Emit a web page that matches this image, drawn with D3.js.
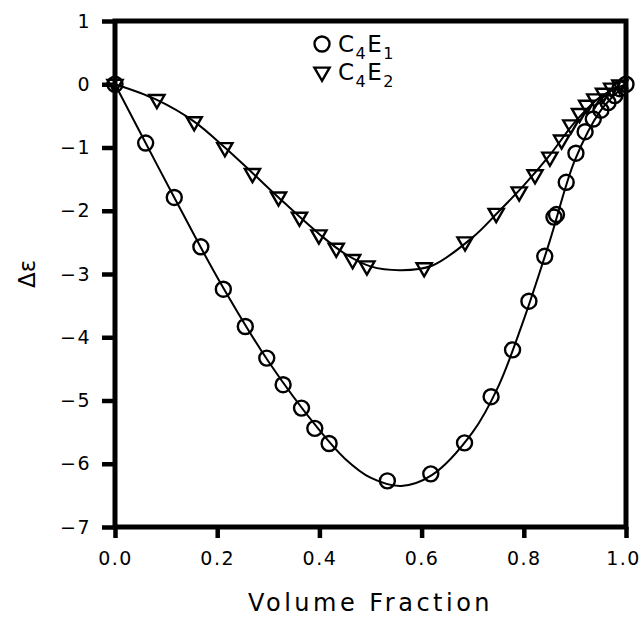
<!DOCTYPE html>
<html>
<head>
<meta charset="utf-8">
<script src="https://cdn.jsdelivr.net/npm/d3@7"></script>
<style>
  body { margin: 0; background: #fff; }
  text { font-family: "DejaVu Sans", sans-serif; fill: #000; }
</style>
</head>
<body>
<div id="chart"></div>
<script>
// C4E1 (circles) measured points
const e1X = [0, 0.060, 0.116, 0.168, 0.212, 0.255, 0.297, 0.329, 0.365, 0.391, 0.419,
  0.533, 0.618, 0.684, 0.736, 0.778, 0.810, 0.841, 0.859, 0.864, 0.883, 0.902, 0.920,
  0.936, 0.951, 0.965, 0.978, 0.988, 1.0];
const e1Y = [0, -0.93, -1.79, -2.57, -3.24, -3.83, -4.33, -4.75, -5.12, -5.44, -5.68,
  -6.27, -6.16, -5.67, -4.94, -4.20, -3.43, -2.72, -2.10, -2.06, -1.55, -1.09, -0.75,
  -0.55, -0.41, -0.29, -0.18, -0.07, 0];
// C4E2 (triangles) measured points
const e2X = [0, 0.082, 0.155, 0.215, 0.269, 0.320, 0.361, 0.399, 0.433, 0.465, 0.493,
  0.605, 0.685, 0.746, 0.791, 0.822, 0.851, 0.874, 0.892, 0.909, 0.923, 0.939, 0.956,
  0.972, 0.988];
const e2Y = [0, -0.24, -0.59, -1.00, -1.41, -1.78, -2.10, -2.38, -2.59, -2.77, -2.87,
  -2.90, -2.49, -2.04, -1.70, -1.43, -1.15, -0.88, -0.64, -0.46, -0.33, -0.23, -0.14,
  -0.06, -0.01];
// fitted curves
const fit1X = [0, 0.06, 0.116, 0.2, 0.3, 0.4, 0.45, 0.5, 0.56, 0.62, 0.7, 0.75, 0.8, 0.85, 0.9, 0.95, 1.0];
const fit1Y = [0, -0.93, -1.79, -3.05, -4.38, -5.47, -5.92, -6.22, -6.35, -6.18, -5.5, -4.78, -3.72, -2.5, -1.2, -0.42, 0];
const fit2X = [0, 0.08, 0.155, 0.215, 0.27, 0.32, 0.4, 0.45, 0.5, 0.56, 0.62, 0.7, 0.75, 0.8, 0.85, 0.9, 0.95, 1.0];
const fit2Y = [0, -0.24, -0.59, -1.0, -1.41, -1.79, -2.37, -2.68, -2.88, -2.94, -2.87, -2.42, -2.02, -1.6, -1.13, -0.6, -0.2, 0];

const xTicks = [0, 0.2, 0.4, 0.6, 0.8, 1.0];
const yTicks = [1, 0, -1, -2, -3, -4, -5, -6, -7];

const width = 643, height = 619;
const margin = { top: 21, right: 17, bottom: 92, left: 115 };

const svg = d3.select('#chart').append('svg')
  .attr('width', width)
  .attr('height', height);

const x = d3.scaleLinear().domain([0, 1]).range([margin.left, width - margin.right]);
const y = d3.scaleLinear().domain([1, -7]).range([margin.top, height - margin.bottom]);

// axes
const yAxis = svg.append('g')
  .attr('transform', `translate(${x(0)},0)`)
  .call(d3.axisLeft(y).tickValues(yTicks).tickSize(13).tickPadding(11)
    .tickFormat(d => d3.format('d')(d).replace('-', '\u2212')));
const xAxis = svg.append('g')
  .attr('transform', `translate(0,${y(-7)})`)
  .call(d3.axisBottom(x).tickValues(xTicks).tickSize(11).tickPadding(14)
    .tickFormat(d3.format('.1f')));

[xAxis, yAxis].forEach(a => {
  a.select('.domain').remove();
  a.selectAll('.tick line').attr('stroke', '#000').attr('stroke-width', 4.5);
  a.selectAll('.tick text')
    .style('font-size', '19px')
    .style('letter-spacing', '1.5px');
});
// last x label sits against the right edge
xAxis.selectAll('.tick text').filter(d => d === 1).attr('dx', -3);

// frame
svg.append('rect')
  .attr('x', x(0)).attr('y', y(1))
  .attr('width', x(1) - x(0)).attr('height', y(-7) - y(1))
  .attr('fill', 'none').attr('stroke', '#000').attr('stroke-width', 5);

// fit lines
const line = d3.line().x(d => x(d[0])).y(d => y(d[1])).curve(d3.curveCatmullRom);
svg.append('path')
  .datum(d3.zip(fit1X, fit1Y))
  .attr('d', line).attr('fill', 'none').attr('stroke', '#000').attr('stroke-width', 2);
svg.append('path')
  .datum(d3.zip(fit2X, fit2Y))
  .attr('d', line).attr('fill', 'none').attr('stroke', '#000').attr('stroke-width', 2);

// markers
svg.append('g').selectAll('circle')
  .data(d3.zip(e1X, e1Y))
  .join('circle')
  .attr('cx', d => x(d[0])).attr('cy', d => y(d[1]))
  .attr('r', 7.5)
  .attr('fill', 'none').attr('stroke', '#000').attr('stroke-width', 2.4);

const tri = d3.symbol().type(d3.symbolTriangle).size(100);
svg.append('g').selectAll('path')
  .data(d3.zip(e2X, e2Y))
  .join('path')
  .attr('d', tri)
  .attr('transform', d => `translate(${x(d[0])},${y(d[1])}) rotate(180)`)
  .attr('fill', 'none').attr('stroke', '#000').attr('stroke-width', 2.4);

// legend
const legend = [
  { sym: 'circle', main: ['C', '4', 'E', '1'] },
  { sym: 'tri', main: ['C', '4', 'E', '2'] }
];
legend.forEach((l, i) => {
  const ly = 44 + i * 28;
  if (l.sym === 'circle') {
    svg.append('circle').attr('cx', 322).attr('cy', ly).attr('r', 7.5)
      .attr('fill', 'none').attr('stroke', '#000').attr('stroke-width', 2.4);
  } else {
    svg.append('path').attr('d', tri)
      .attr('transform', `translate(322,${ly}) rotate(180)`)
      .attr('fill', 'none').attr('stroke', '#000').attr('stroke-width', 2.4);
  }
  const t = svg.append('text').attr('x', 338).attr('y', ly + 8)
    .style('font-size', '23px').style('letter-spacing', '1.5px');
  t.append('tspan').text(l.main[0]);
  t.append('tspan').text(l.main[1]).attr('dy', 7).style('font-size', '16px');
  t.append('tspan').text(l.main[2]).attr('dy', -7);
  t.append('tspan').text(l.main[3]).attr('dy', 7).style('font-size', '16px');
});

// axis titles
svg.append('text')
  .attr('x', (x(0) + x(1)) / 2).attr('y', 611)
  .attr('text-anchor', 'middle')
  .style('font-size', '24px').style('letter-spacing', '3.5px')
  .text('Volume Fraction');

svg.append('text')
  .attr('transform', `translate(35,${y(-3)}) rotate(-90)`)
  .attr('text-anchor', 'middle')
  .style('font-size', '23px')
  .text('\u0394\u03b5');
</script>
</body>
</html>
